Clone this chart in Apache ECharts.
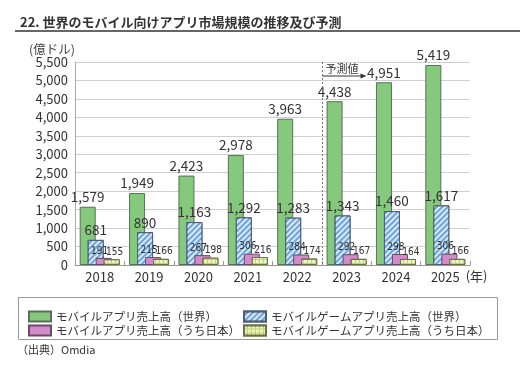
<!DOCTYPE html>
<html><head><meta charset="utf-8">
<script src="https://cdn.jsdelivr.net/npm/echarts@6/dist/echarts.min.js"></script>
<style>html,body{margin:0;padding:0;background:#fff}#c{width:520px;height:369px}</style>
</head><body><div id="c"></div>
<script>
const categories = ['2018','2019','2020','2021','2022','2023','2024','2025'];
const appWorld  = [1579,1949,2423,2978,3963,4438,4951,5419];
const gameWorld = [681,890,1163,1292,1283,1343,1460,1617];
const appJapan  = [191,215,267,306,284,292,298,306];
const gameJapan = [155,166,198,216,174,167,164,166];
const seriesNames = ['モバイルアプリ売上高（世界）','モバイルゲームアプリ売上高（世界）','モバイルアプリ売上高（うち日本）','モバイルゲームアプリ売上高（うち日本）'];
const yMin = 0, yMax = 5500, yStep = 500;
const forecastStart = '2023';

const FF = '"Noto Sans CJK JP","Noto Sans",sans-serif';
const fmt = v => Number(v).toLocaleString('en-US');
const chart = echarts.init(document.getElementById('c'));

function bigLabel(){ return {show:true, position:'top', distance:3, color:'#333', fontSize:13.5, fontFamily:FF, formatter:p=>fmt(p.value)}; }
function smallLabel(dx){ return {show:true, position:'top', distance:2, color:'#333', fontSize:10, fontFamily:'"Liberation Sans Narrow","DejaVu Sans Condensed",sans-serif', offset:[dx,0], formatter:p=>fmt(p.value)}; }

const legendCommon = {orient:'vertical', top:305, itemWidth:22, itemHeight:10, itemGap:1, icon:'rect',
  textStyle:{fontSize:11.5, color:'#333', lineHeight:13}};

chart.setOption({
  animation:false,
  textStyle:{fontFamily:FF},
  title:{text:'22. 世界のモバイル向けアプリ市場規模の推移及び予測', left:15, top:11,
    textStyle:{fontSize:13, fontWeight:'bold', color:'#333', fontFamily:FF}},
  grid:{left:75, right:50, top:62, bottom:104, containLabel:false},
  xAxis:{type:'category', data:categories, boundaryGap:true,
    name:'(年)', nameLocation:'end', nameGap:-9,
    nameTextStyle:{align:'left', verticalAlign:'top', padding:[5,0,0,0], fontSize:13, color:'#333'},
    axisLine:{lineStyle:{color:'#999'}},
    axisTick:{show:true, inside:true, length:4, lineStyle:{color:'#999'}},
    axisLabel:{color:'#333', fontSize:13, margin:6}},
  yAxis:{type:'value', min:yMin, max:yMax, interval:yStep,
    name:'(億ドル)', nameLocation:'end', nameGap:6,
    nameTextStyle:{align:'right', fontSize:12.5, color:'#444'},
    axisLine:{show:true, lineStyle:{color:'#aaa'}},
    axisTick:{show:false},
    splitLine:{lineStyle:{color:'#d0d0d0'}},
    axisLabel:{color:'#333', fontSize:13, margin:7, formatter:v=>fmt(v)}},
  legend:[
    Object.assign({data:[seriesNames[0], seriesNames[2]], left:23}, legendCommon),
    Object.assign({data:[seriesNames[1], seriesNames[3]], left:238}, legendCommon)
  ],
  series:[
    {name:seriesNames[0], type:'bar', data:appWorld, barWidth:16, barGap:'-50%',
      itemStyle:{color:'#84c97c', borderColor:'#5b6f58', borderWidth:1}, label:bigLabel()},
    {name:seriesNames[1], type:'bar', data:gameWorld, barWidth:16, barGap:'-50%',
      itemStyle:{color:'#6aa5de', borderColor:'#4a5f78', borderWidth:1,
        decal:{symbol:'rect', symbolSize:1, color:'rgba(255,255,255,0.75)', dashArrayX:[1,0], dashArrayY:[2,2], rotation:-Math.PI/4}},
      label:bigLabel()},
    {name:seriesNames[2], type:'bar', data:appJapan, barWidth:16, barGap:'-50%',
      itemStyle:{color:'#d48bcc', borderColor:'#6b4a66', borderWidth:1}, label:smallLabel(-4)},
    {name:seriesNames[3], type:'bar', data:gameJapan, barWidth:16, barGap:'-50%',
      itemStyle:{color:'#bcd86c', borderColor:'#6a7048', borderWidth:1,
        decal:{symbol:'rect', symbolSize:1, color:'#eaf5b8', dashArrayX:[[3,1]], dashArrayY:[3,1], rotation:0}},
      label:smallLabel(3)}
  ]
});

// annotations positioned from the axes
const idx = categories.indexOf(forecastStart);
const xa = chart.convertToPixel({xAxisIndex:0}, categories[idx-1]);
const xb = chart.convertToPixel({xAxisIndex:0}, categories[idx]);
const xm = Math.round((xa + xb)/2) + 0.5;
const yTop = chart.convertToPixel({yAxisIndex:0}, yMax);
const yBot = chart.convertToPixel({yAxisIndex:0}, yMin);
const arrowY = yTop + 14;
chart.setOption({
  graphic:[
    {type:'line', shape:{x1:15, y1:31, x2:520, y2:31}, style:{stroke:'#333', lineWidth:1.5}},
    {type:'line', shape:{x1:xm, y1:yTop, x2:xm, y2:yBot}, style:{stroke:'#777', lineWidth:1, lineDash:[2,2]}, z:10},
    {type:'text', x:xm+3, y:yTop+1, style:{text:'予測値', fontSize:11, fill:'#333', fontFamily:FF}, z:10},
    {type:'line', shape:{x1:xm, y1:arrowY, x2:xm+40, y2:arrowY}, style:{stroke:'#333', lineWidth:1}, z:10},
    {type:'polygon', shape:{points:[[xm+44,arrowY],[xm+38,arrowY-2.5],[xm+38,arrowY+2.5]]}, style:{fill:'#333'}, z:10},
    {type:'rect', shape:{x:18.5, y:297.5, width:479, height:42}, style:{fill:'none', stroke:'#999', lineWidth:1}},
    {type:'text', x:17, y:344, style:{text:'（出典）Omdia', fontSize:11, fill:'#333', fontFamily:FF}}
  ]
});
</script></body></html>
